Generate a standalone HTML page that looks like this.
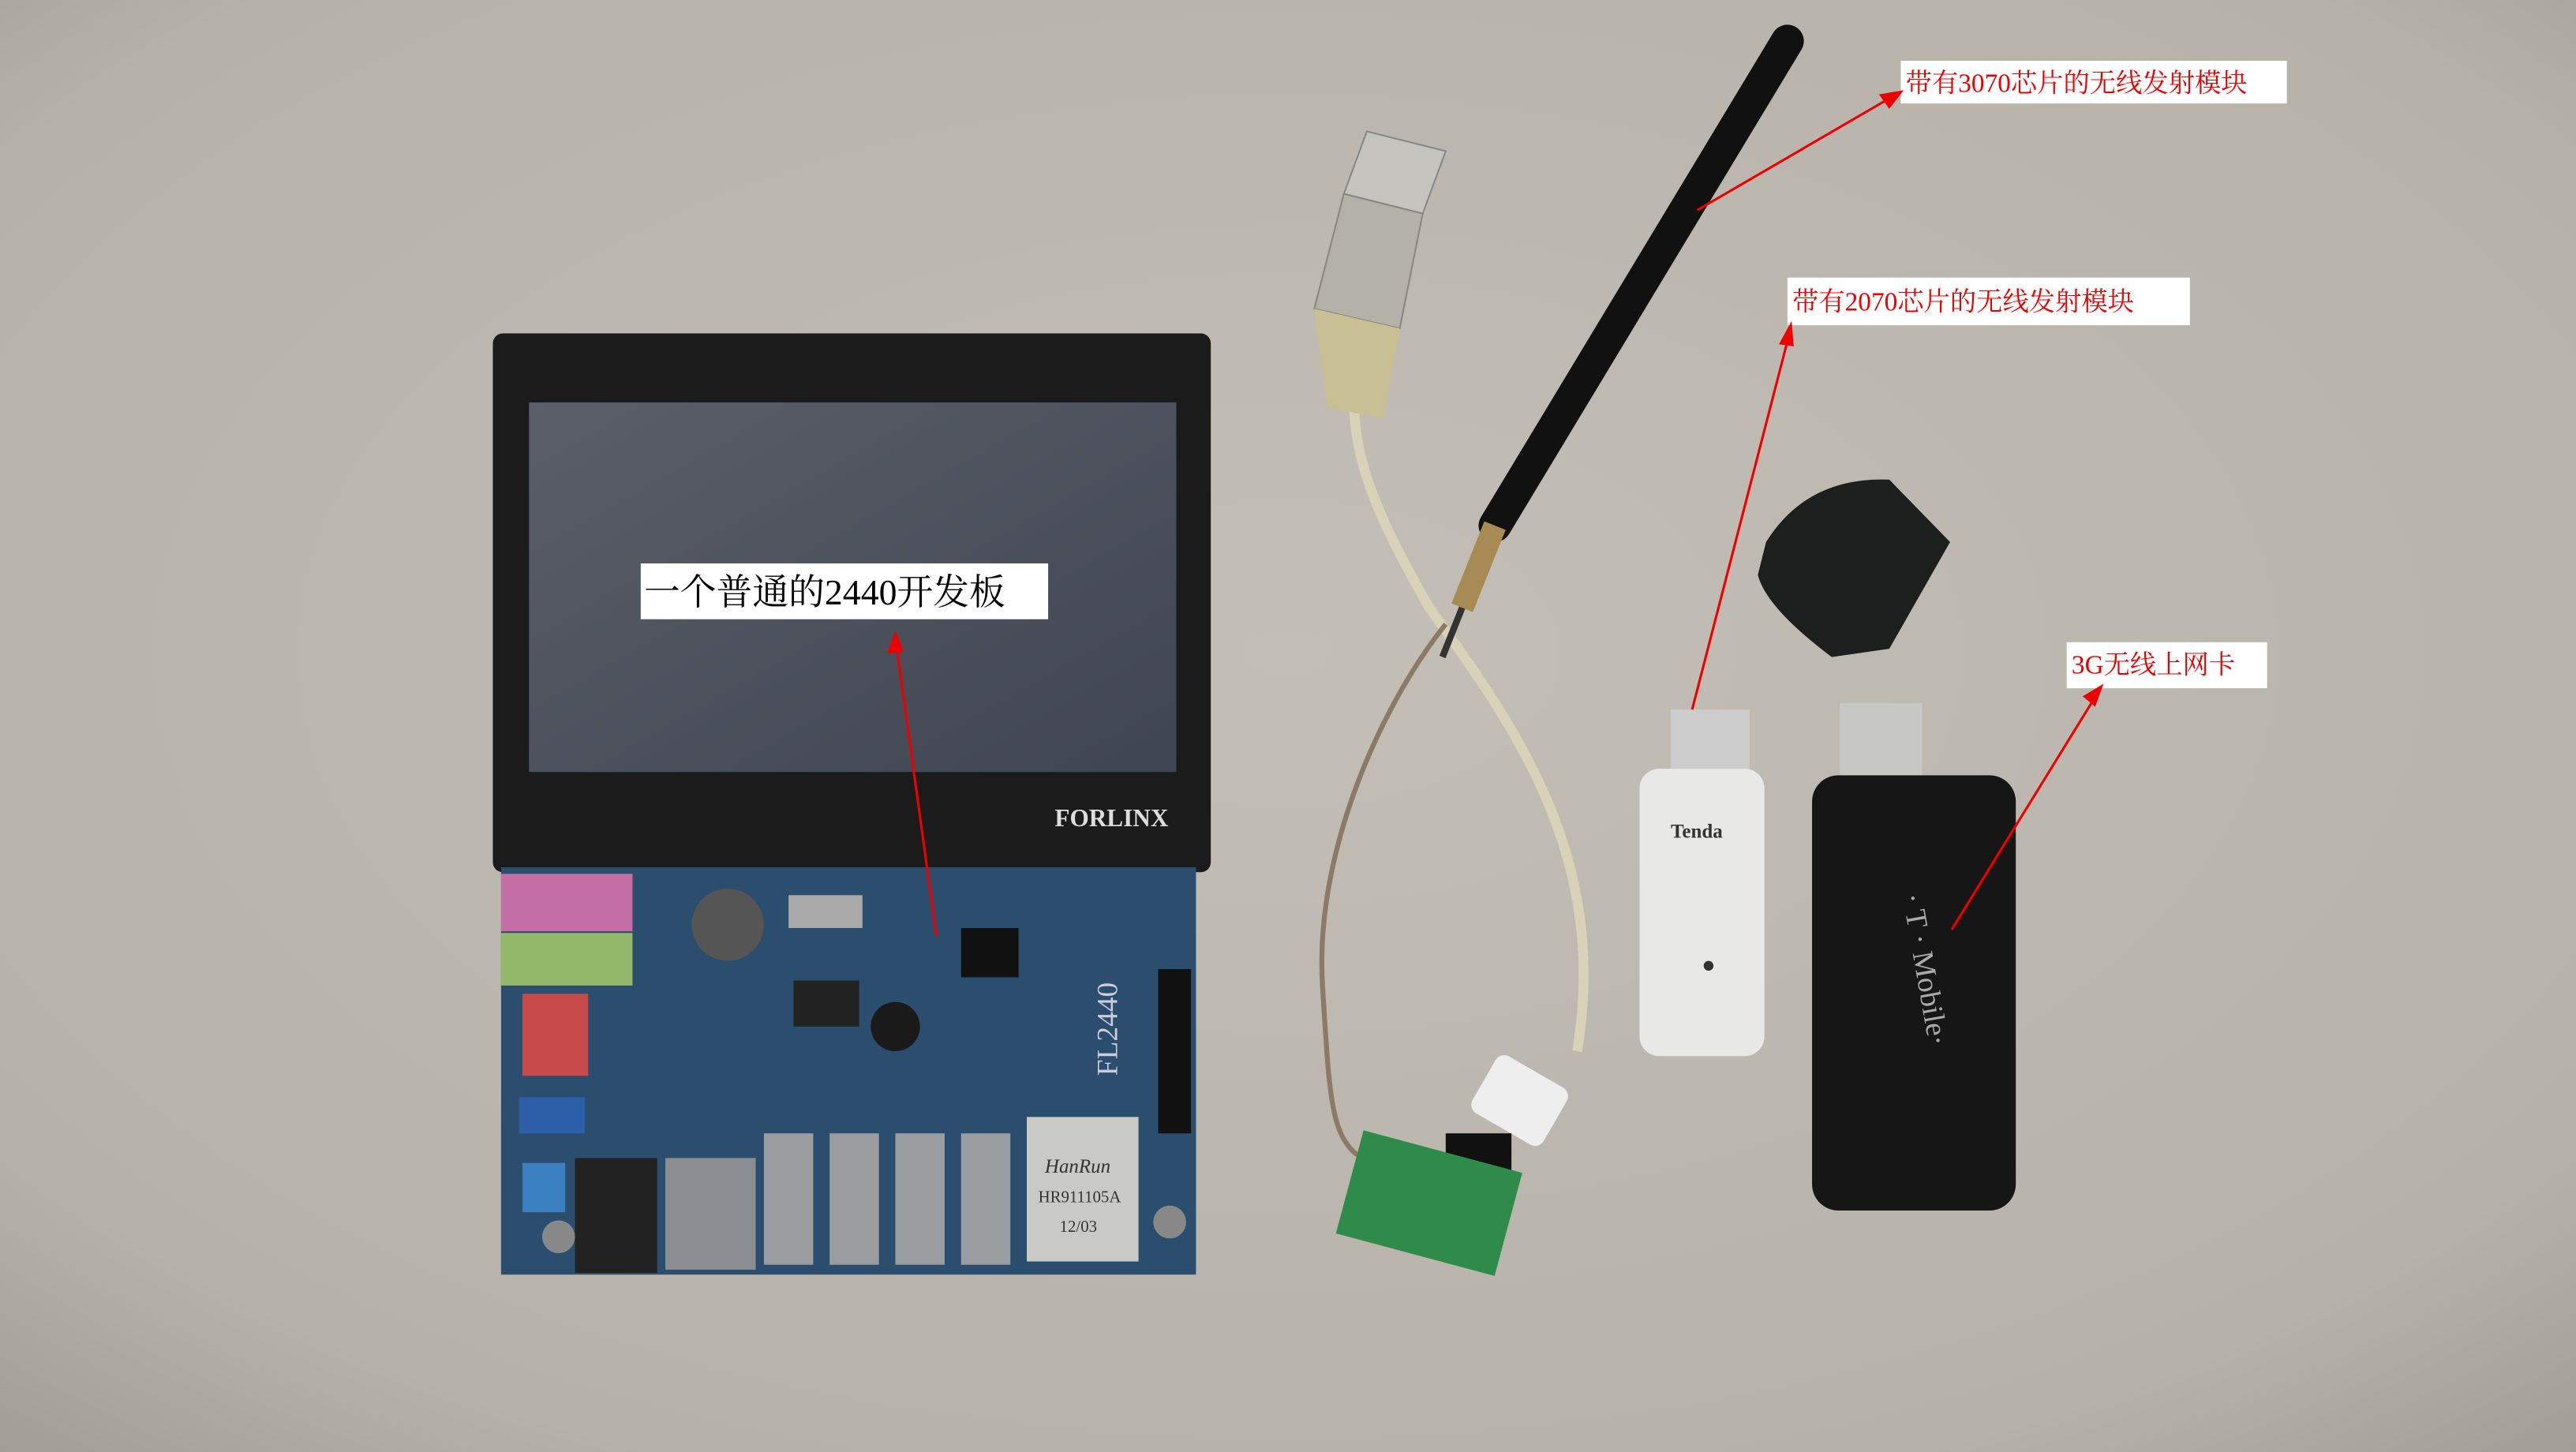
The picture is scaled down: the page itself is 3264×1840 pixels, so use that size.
<!DOCTYPE html>
<html><head><meta charset="utf-8"><style>
html,body{margin:0;padding:0;width:3264px;height:1840px;overflow:hidden;background:#b5b1a9}
svg{display:block}
text{font-family:"Liberation Serif","Noto Serif CJK SC","Noto Sans CJK SC",serif}
</style></head><body>
<svg width="3264" height="1840" viewBox="0 0 1568 884" preserveAspectRatio="none" xmlns="http://www.w3.org/2000/svg">
<defs>
<radialGradient id="bg" cx="50%" cy="45%" r="80%">
<stop offset="0" stop-color="#c3bfb7"/><stop offset="0.75" stop-color="#b6b2aa"/><stop offset="1" stop-color="#9a968f"/>
</radialGradient>
<linearGradient id="scr" x1="0" y1="0" x2="1" y2="1">
<stop offset="0" stop-color="#5a5f69"/><stop offset="1" stop-color="#3f4551"/>
</linearGradient>
</defs>
<rect width="1568" height="884" fill="url(#bg)"/>
<!-- display -->
<rect x="300" y="203" width="437" height="328" rx="6" fill="#1b1b1c"/>
<rect x="322" y="245" width="394" height="225" fill="url(#scr)"/>
<text x="642" y="503" font-family="Liberation Sans" font-weight="bold" font-size="15" fill="#ddd">FORLINX</text>
<!-- board -->
<rect x="305" y="528" width="423" height="248" fill="#2b4d6e"/>
<rect x="305" y="532" width="80" height="35" fill="#c46ea6"/>
<rect x="305" y="568" width="80" height="32" fill="#93b86a"/>
<rect x="318" y="605" width="40" height="50" fill="#c84a4a"/>
<rect x="316" y="668" width="40" height="22" fill="#2d5ea8"/>
<rect x="318" y="708" width="26" height="30" fill="#3a7fc0"/>
<rect x="350" y="705" width="50" height="70" fill="#222"/>
<rect x="405" y="705" width="55" height="68" fill="#8a8e92"/>
<rect x="465" y="690" width="30" height="80" fill="#9a9da0"/>
<rect x="505" y="690" width="30" height="80" fill="#9a9da0"/>
<rect x="545" y="690" width="30" height="80" fill="#9a9da0"/>
<rect x="585" y="690" width="30" height="80" fill="#9a9da0"/>
<rect x="625" y="680" width="68" height="88" fill="#c9c9c6"/>
<text x="636" y="714" font-family="Liberation Sans" font-style="italic" font-size="12" fill="#333">HanRun</text>
<text x="632" y="732" font-family="Liberation Sans" font-size="10" fill="#333">HR911105A</text>
<text x="645" y="750" font-family="Liberation Sans" font-size="10" fill="#333">12/03</text>
<circle cx="443" cy="563" r="22" fill="#555"/>
<rect x="480" y="545" width="45" height="20" fill="#aaa"/>
<rect x="483" y="597" width="40" height="28" fill="#222"/>
<rect x="585" y="565" width="35" height="30" fill="#111"/>
<circle cx="545" cy="625" r="15" fill="#1a1a1a"/>
<rect x="705" y="590" width="20" height="100" fill="#111"/>
<circle cx="712" cy="744" r="10" fill="#888"/>
<circle cx="340" cy="753" r="10" fill="#888"/>
<text x="0" y="0" transform="translate(680,655) rotate(-90)" font-family="Liberation Sans" font-size="18" fill="#ccd">FL2440</text>
<!-- usb cable -->
<path d="M830 205 C815 260 830 300 870 370 C920 440 980 520 960 640" stroke="#d8d2b8" stroke-width="6" fill="none"/>
<path d="M880 380 C840 430 800 520 805 600 C810 680 810 700 840 710" stroke="#8c7a66" stroke-width="3" fill="none"/>
<polygon points="832,80 880,92 866,130 818,118" fill="#c6c4be" stroke="#888" stroke-width="1"/>
<polygon points="818,118 866,130 852,200 800,188" fill="#b4b1a8" stroke="#8a877f" stroke-width="1"/>
<polygon points="800,188 852,200 842,255 808,248" fill="#c9bf95"/>
<!-- antenna -->
<line x1="1088" y1="25" x2="910" y2="320" stroke="#111" stroke-width="20" stroke-linecap="round"/>
<line x1="910" y1="320" x2="890" y2="370" stroke="#a88a55" stroke-width="14"/>
<line x1="890" y1="370" x2="878" y2="400" stroke="#333" stroke-width="4"/>
<!-- green pcb -->
<rect x="900" y="650" width="50" height="40" rx="6" fill="#eee" transform="rotate(30 925 670)"/>
<rect x="880" y="690" width="40" height="30" fill="#111"/>
<rect x="820" y="700" width="100" height="65" fill="#2f8b4a" transform="rotate(15 870 732)"/>
<!-- cap -->
<path d="M1075 330 Q1100 290 1150 292 L1187 330 L1150 395 L1115 400 Q1075 370 1070 350 Z" fill="#1d1e1e"/>
<!-- tenda -->
<rect x="1017" y="432" width="48" height="42" fill="#ccc"/>
<rect x="998" y="468" width="76" height="175" rx="12" fill="#e8e8e6"/>
<text x="1017" y="510" font-family="Liberation Sans" font-weight="bold" font-size="12" fill="#333">Tenda</text>
<circle cx="1040" cy="588" r="3" fill="#333"/>
<!-- t-mobile -->
<rect x="1120" y="428" width="50" height="48" fill="#c7c7c4"/>
<rect x="1103" y="472" width="124" height="265" rx="16" fill="#161616"/>
<text x="0" y="0" transform="translate(1158,545) rotate(80)" font-family="Liberation Serif" font-size="18" fill="#aaa">· T · Mobile·</text>
<!-- labels -->
<rect x="390" y="343" width="248" height="34" fill="#fff"/>
<text x="392" y="368" font-size="22" fill="#000">一个普通的2440开发板</text>
<rect x="1157" y="37" width="235" height="26" fill="#fff"/>
<text x="1160" y="56" font-size="16" fill="#e00">带有3070芯片的无线发射模块</text>
<rect x="1088" y="169" width="245" height="29" fill="#fff"/>
<text x="1091" y="189" font-size="16" fill="#e00">带有2070芯片的无线发射模块</text>
<rect x="1258" y="391" width="122" height="28" fill="#fff"/>
<text x="1261" y="410" font-size="16" fill="#e00">3G无线上网卡</text>
<!-- arrows -->
<g stroke="#e00" stroke-width="1.5" fill="#e00">
<line x1="1155" y1="57" x2="1033" y2="128"/><path d="M1157 56 l-12 2 l5 7 z"/>
<line x1="1090" y1="200" x2="1030" y2="432"/><path d="M1090 198 l-6 11 l7 1 z"/>
<line x1="1278" y1="420" x2="1188" y2="566"/><path d="M1279 418 l-10 6 l6 5 z"/>
<line x1="545" y1="388" x2="570" y2="570"/><path d="M545 386 l-4 11 l8 -1 z"/>
</g>
</svg>
</body></html>
